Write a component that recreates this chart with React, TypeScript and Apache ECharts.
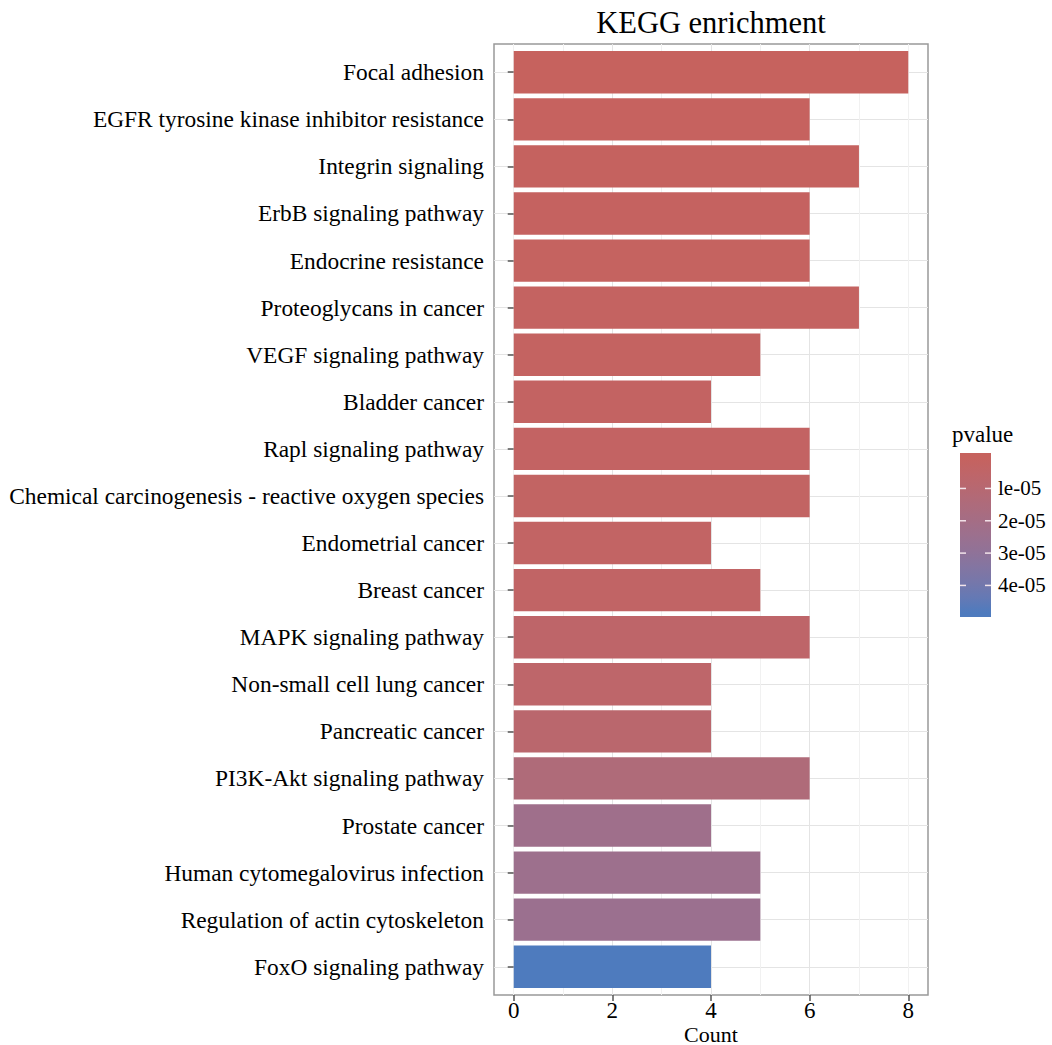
import React, { useEffect, useRef } from 'react';
import * as echarts from 'echarts';

const categories = [
  'Focal adhesion',
  'EGFR tyrosine kinase inhibitor resistance',
  'Integrin signaling',
  'ErbB signaling pathway',
  'Endocrine resistance',
  'Proteoglycans in cancer',
  'VEGF signaling pathway',
  'Bladder cancer',
  'Rapl signaling pathway',
  'Chemical carcinogenesis - reactive oxygen species',
  'Endometrial cancer',
  'Breast cancer',
  'MAPK signaling pathway',
  'Non-small cell lung cancer',
  'Pancreatic cancer',
  'PI3K-Akt signaling pathway',
  'Prostate cancer',
  'Human cytomegalovirus infection',
  'Regulation of actin cytoskeleton',
  'FoxO signaling pathway',
];

const counts = [8, 6, 7, 6, 6, 7, 5, 4, 6, 6, 4, 5, 6, 4, 4, 6, 4, 5, 5, 4];

const pvalues = [
  3.0e-7, 6.0e-7, 9.0e-7, 1.1e-6, 1.3e-6, 1.6e-6, 1.9e-6, 2.2e-6, 2.5e-6, 2.8e-6,
  3.2e-6, 3.6e-6, 5.5e-6, 6.0e-6, 8.0e-6, 1.4e-5, 2.3e-5, 2.4e-5, 2.5e-5, 4.85e-5,
];

const xTickValues = [0, 2, 4, 6, 8];
const legendTickValues = [1e-5, 2e-5, 3e-5, 4e-5];
const legendTickLabels = ['le-05', '2e-05', '3e-05', '4e-05'];

const LOW_COLOR = '#C6625E';
const HIGH_COLOR = '#4E7BBE';
const FONT = "'Liberation Serif', 'Times New Roman', serif";

// ---- Lab interpolation (like ggplot's seq_gradient_pal) ----
function hexToRgb(h: string): number[] {
  return [parseInt(h.slice(1, 3), 16), parseInt(h.slice(3, 5), 16), parseInt(h.slice(5, 7), 16)];
}
function toLin(c: number) {
  c /= 255;
  return c <= 0.04045 ? c / 12.92 : Math.pow((c + 0.055) / 1.055, 2.4);
}
function fromLin(c: number) {
  const v = c <= 0.0031308 ? 12.92 * c : 1.055 * Math.pow(Math.max(c, 0), 1 / 2.4) - 0.055;
  return Math.round(Math.max(0, Math.min(1, v)) * 255);
}
function rgbToLab(rgb: number[]) {
  const R = toLin(rgb[0]), G = toLin(rgb[1]), B = toLin(rgb[2]);
  const X = (0.4124564 * R + 0.3575761 * G + 0.1804375 * B) / 0.95047;
  const Y = 0.2126729 * R + 0.7151522 * G + 0.072175 * B;
  const Z = (0.0193339 * R + 0.119192 * G + 0.9503041 * B) / 1.08883;
  const f = (t: number) => (t > 216 / 24389 ? Math.cbrt(t) : ((24389 / 27) * t + 16) / 116);
  const fx = f(X), fy = f(Y), fz = f(Z);
  return [116 * fy - 16, 500 * (fx - fy), 200 * (fy - fz)];
}
function labToHex(lab: number[]) {
  const fy = (lab[0] + 16) / 116;
  const fx = fy + lab[1] / 500;
  const fz = fy - lab[2] / 200;
  const finv = (t: number) => (t * t * t > 216 / 24389 ? t * t * t : (116 * t - 16) / (24389 / 27));
  const X = finv(fx) * 0.95047, Y = finv(fy), Z = finv(fz) * 1.08883;
  const R = 3.2404542 * X - 1.5371385 * Y - 0.4985314 * Z;
  const G = -0.969266 * X + 1.8760108 * Y + 0.041556 * Z;
  const B = 0.0556434 * X - 0.2040259 * Y + 1.0572252 * Z;
  const hx = (v: number) => v.toString(16).padStart(2, '0');
  return '#' + hx(fromLin(R)) + hx(fromLin(G)) + hx(fromLin(B));
}
function gradientStops(n: number) {
  const a = rgbToLab(hexToRgb(LOW_COLOR));
  const b = rgbToLab(hexToRgb(HIGH_COLOR));
  const out: string[] = [];
  for (let i = 0; i < n; i++) {
    const t = i / (n - 1);
    out.push(labToHex([a[0] + (b[0] - a[0]) * t, a[1] + (b[1] - a[1]) * t, a[2] + (b[2] - a[2]) * t]));
  }
  return out;
}

export default function App() {
  const ref = useRef<HTMLDivElement>(null);

  useEffect(() => {
    if (!ref.current) return;
    const chart = echarts.init(ref.current, undefined, { renderer: 'svg' });

    const W = 1052, H = 1045;
    const panelLeft = 494, panelRight = 928, panelTop = 44, panelBottom = 995;
    const N = categories.length;
    const unit = (panelBottom - panelTop) / (N - 1 + 1.2);
    const barTop = panelTop + 0.1 * unit;
    const barBottom = panelBottom - 0.1 * unit;

    const pMin = Math.min(...pvalues);
    const pMax = Math.max(...pvalues);
    const stops = gradientStops(11);

    // legend colourbar geometry
    const LX = 960, LY = 453, LW = 31, LH = 164, INSET = LH / 40;
    const legY = (v: number) => LY + INSET + ((v - pMin) / (pMax - pMin)) * (LH - 2 * INSET);
    const colorStops = stops.map((c, i) => ({
      offset: (INSET + (i / (stops.length - 1)) * (LH - 2 * INSET)) / LH,
      color: c,
    }));
    colorStops.unshift({ offset: 0, color: stops[0] });
    colorStops.push({ offset: 1, color: stops[stops.length - 1] });

    const graphics: any[] = [
      {
        type: 'text',
        x: (panelLeft + panelRight) / 2,
        y: 23,
        style: {
          text: 'KEGG enrichment',
          font: `30.5px ${FONT}`,
          fill: '#000',
          textAlign: 'center',
          textVerticalAlign: 'middle',
        },
      },
      {
        type: 'text',
        x: (panelLeft + panelRight) / 2,
        y: 1034,
        style: {
          text: 'Count',
          font: `22px ${FONT}`,
          fill: '#000',
          textAlign: 'center',
          textVerticalAlign: 'middle',
        },
      },
      {
        type: 'text',
        x: 952,
        y: 434,
        style: {
          text: 'pvalue',
          font: `23px ${FONT}`,
          fill: '#000',
          textAlign: 'left',
          textVerticalAlign: 'middle',
        },
      },
      {
        type: 'rect',
        shape: { x: LX, y: LY, width: LW, height: LH },
        style: {
          fill: { type: 'linear', x: 0, y: 0, x2: 0, y2: 1, colorStops },
        },
      },
    ];
    legendTickValues.forEach((v, i) => {
      const y = legY(v);
      graphics.push({
        type: 'line',
        shape: { x1: LX, y1: y, x2: LX + 6, y2: y },
        style: { stroke: '#f3e4ea', lineWidth: 1.5 },
      });
      graphics.push({
        type: 'line',
        shape: { x1: LX + LW - 6, y1: y, x2: LX + LW, y2: y },
        style: { stroke: '#f3e4ea', lineWidth: 1.5 },
      });
      graphics.push({
        type: 'text',
        x: 998,
        y,
        style: {
          text: legendTickLabels[i],
          font: `21px ${FONT}`,
          fill: '#000',
          textAlign: 'left',
          textVerticalAlign: 'middle',
        },
      });
    });

    const option: any = {
      animation: false,
      backgroundColor: '#fff',
      grid: [
        {
          left: panelLeft,
          right: W - panelRight,
          top: panelTop,
          bottom: H - panelBottom,
          show: true,
          borderColor: '#999999',
          borderWidth: 1.5,
          backgroundColor: '#fff',
        },
        {
          left: panelLeft,
          right: W - panelRight,
          top: barTop,
          bottom: H - barBottom,
          show: false,
        },
      ],
      xAxis: [
        {
          gridIndex: 0,
          type: 'value',
          min: -0.4,
          max: 8.4,
          splitNumber: 4,
          minInterval: 2,
          maxInterval: 2,
          z: 1,
          axisLine: { show: false },
          axisTick: {
            show: true,
            length: 6,
            customValues: xTickValues,
            lineStyle: { color: '#555555', width: 1.5 },
          },
          axisLabel: {
            fontSize: 23,
            fontFamily: FONT,
            color: '#000',
            margin: 15,
            verticalAlign: 'middle',
            customValues: xTickValues,
            formatter: (v: number) => String(v),
          },
          splitLine: {
            show: true,
            showMinLine: false,
            showMaxLine: false,
            lineStyle: { color: '#e4e4e4', width: 1 },
          },
        },
        {
          gridIndex: 1,
          type: 'value',
          min: -0.4,
          max: 8.4,
          show: false,
        },
        {
          gridIndex: 0,
          type: 'value',
          position: 'top',
          min: -0.4,
          max: 8.4,
          splitNumber: 8,
          minInterval: 1,
          maxInterval: 1,
          z: 0,
          axisLine: { show: false },
          axisTick: { show: false },
          axisLabel: { show: false },
          splitLine: {
            show: true,
            showMinLine: false,
            showMaxLine: false,
            lineStyle: { color: '#f1f1f1', width: 1 },
          },
        },
      ],
      yAxis: [
        {
          gridIndex: 0,
          type: 'value',
          min: 0.4,
          max: N + 0.6,
          splitNumber: N,
          minInterval: 1,
          maxInterval: 1,
          axisLine: { show: false },
          axisTick: { show: false },
          axisLabel: { show: false },
          splitLine: {
            show: true,
            showMinLine: false,
            showMaxLine: false,
            lineStyle: { color: '#e4e4e4', width: 1 },
          },
        },
        {
          gridIndex: 1,
          type: 'category',
          data: categories,
          inverse: true,
          axisLine: { show: false },
          axisTick: {
            show: true,
            alignWithLabel: true,
            length: 6,
            lineStyle: { color: '#555555', width: 1.5 },
          },
          axisLabel: { interval: 0, fontSize: 23.4, fontFamily: FONT, color: '#000', margin: 10 },
          splitLine: { show: false },
        },
      ],
      visualMap: {
        type: 'continuous',
        show: false,
        seriesIndex: 0,
        dimension: 2,
        min: pMin,
        max: pMax,
        inRange: { color: stops },
      },
      series: [
        {
          type: 'bar',
          xAxisIndex: 1,
          yAxisIndex: 1,
          barCategoryGap: '10%',
          z: 2,
          encode: { x: 0, y: 1 },
          data: categories.map((c, i) => [counts[i], c, pvalues[i]]),
        },
      ],
      graphic: graphics,
    };

    chart.setOption(option);
    return () => chart.dispose();
  }, []);

  return (
    <div
      ref={ref}
      style={{ position: 'fixed', left: 0, top: 0, width: 1052, height: 1045, background: '#fff' }}
    />
  );
}
